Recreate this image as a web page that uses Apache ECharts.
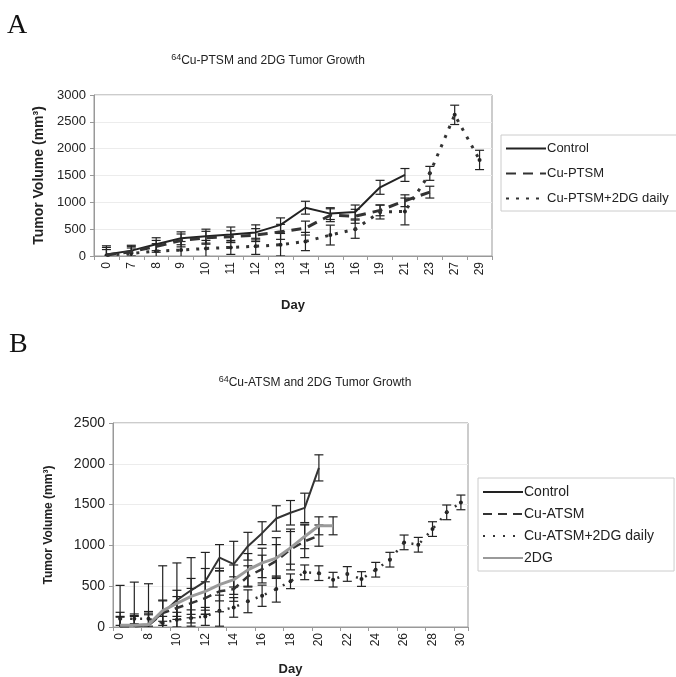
<!DOCTYPE html>
<html>
<head>
<meta charset="utf-8">
<script src="https://cdn.jsdelivr.net/npm/echarts@6/dist/echarts.min.js"></script>
<style>
  html, body { margin: 0; padding: 0; background: #fff; }
  #chart { width: 676px; height: 677px; }
</style>
</head>
<body>
<div id="chart"></div>
<script>
// panel A — 64Cu-PTSM
var daysA = ['0', '7', '8', '9', '10', '11', '12', '13', '14', '15', '16', '19', '21', '23', '27', '29'];
var ctrlA = [30, 100, 220, 330, 370, 400, 440, 580, 900, 790, 820, 1280, 1510, null, null, null];
var ctrlAErr = [130, 100, 120, 120, 130, 140, 140, 130, 120, 110, 130, 130, 120, null, null, null];
var ptsmA = [20, 80, 180, 290, 340, 360, 390, 450, 520, 760, 740, 850, 1030, 1190, null, null];
var ptsmAErr = [100, 100, 110, 120, 120, 110, 120, 140, 130, 120, 130, 100, 110, 110, null, null];
var dotA = [10, 50, 90, 110, 140, 160, 180, 210, 270, 390, 500, 820, 830, 1540, 2630, 1790];
var dotAErr = [180, 100, 140, 160, 150, 130, 150, 210, 170, 185, 170, 130, 250, 130, 180, 180];

// panel B — 64Cu-ATSM
var daysB = ['0', '7', '8', '9', '10', '11', '12', '13', '14', '15', '16', '17', '18', '19', '20',
  '21', '22', '23', '24', '25', '26', '27', '28', '29', '30'];
var ctrlB = [10, 20, 30, 170, 330, 450, 560, 850, 770, 990, 1150, 1330, 1400, 1460, 1950];
var ctrlBErr = [500, 530, 500, 580, 455, 400, 354, 160, 280, 170, 140, 156, 150, 180, 160];
var atsmB = [10, 10, 20, 170, 233, 293, 354, 437, 465, 620, 710, 810, 950, 1050, 1120];
var atsmBErr = [120, 120, 130, 150, 140, 180, 200, 250, 150, 130, 170, 200, 250, 200, 130];
var dgB = [20, 20, 30, 200, 290, 375, 437, 520, 580, 700, 785, 845, 970, 1110, 1240, 1240];
var dgBErr = [100, 120, 140, 130, 160, 220, 280, 200, 180, 200, 180, 250, 200, 150, 110, 110];
var dotB = [100, 100, 100, 50, 90, 110, 130, 200, 240, 315, 383, 465, 560, 670, 660,
  580, 650, 588, 702, 825, 1037, 1008, 1200, 1405, 1527];
var dotBErr = [80, 60, 90, 80, 90, 100, 110, 190, 120, 140, 130, 160, 90, 90, 90,
  90, 90, 90, 90, 90, 90, 90, 90, 90, 90];

var font = 'Liberation Sans, Arial, sans-serif';
var ink = '#222';

function errSeries(name, ax, means, errs, dot) {
  var data = [];
  means.forEach(function (m, i) {
    if (m != null && errs[i] != null) data.push([i, m - errs[i], m + errs[i], m]);
  });
  return {
    type: 'custom',
    name: name,
    xAxisIndex: ax,
    yAxisIndex: ax,
    clip: true,
    silent: true,
    z: 3,
    encode: { x: 0, y: [1, 2] },
    data: data,
    renderItem: function (params, api) {
      var lo = api.coord([api.value(0), api.value(1)]);
      var hi = api.coord([api.value(0), api.value(2)]);
      var mid = api.coord([api.value(0), api.value(3)]);
      var w = 4.5;
      var st = { stroke: ink, lineWidth: 1.2, fill: null };
      var kids = [
        { type: 'line', shape: { x1: lo[0], y1: lo[1], x2: hi[0], y2: hi[1] }, style: st },
        { type: 'line', shape: { x1: lo[0] - w, y1: lo[1], x2: lo[0] + w, y2: lo[1] }, style: st },
        { type: 'line', shape: { x1: hi[0] - w, y1: hi[1], x2: hi[0] + w, y2: hi[1] }, style: st }
      ];
      if (dot) kids.push({ type: 'circle', shape: { cx: mid[0], cy: mid[1], r: 2 }, style: { fill: ink } });
      return { type: 'group', children: kids };
    }
  };
}

function lineSeries(name, ax, data, color, width, dash) {
  return {
    type: 'line',
    name: name,
    xAxisIndex: ax,
    yAxisIndex: ax,
    data: data,
    showSymbol: false,
    symbol: 'circle',
    silent: true,
    z: 4,
    lineStyle: { color: color, width: width, type: dash },
    itemStyle: { color: color }
  };
}

function xAxis(idx, days, labelInterval, tickInterval, gap) {
  return {
    type: 'category',
    gridIndex: idx,
    data: days,
    boundaryGap: true,
    name: 'Day',
    nameLocation: 'middle',
    nameGap: gap,
    nameTextStyle: { fontFamily: font, fontWeight: 'bold', fontSize: 13, color: ink },
    axisLine: { lineStyle: { color: '#999' } },
    axisTick: { show: true, interval: tickInterval, length: 4, lineStyle: { color: '#999' } },
    axisLabel: { interval: labelInterval, rotate: 90, fontFamily: font, fontSize: 12, color: ink, margin: 6 },
    splitLine: { show: false }
  };
}

function yAxis(idx, max, gap, nameSize, labelSize) {
  return {
    type: 'value',
    gridIndex: idx,
    min: 0,
    max: max,
    interval: 500,
    name: 'Tumor Volume (mm³)',
    nameLocation: 'middle',
    nameGap: gap,
    nameTextStyle: { fontFamily: font, fontWeight: 'bold', fontSize: nameSize, color: ink },
    axisLine: { show: true, lineStyle: { color: '#999' } },
    axisTick: { show: true, length: 4, lineStyle: { color: '#999' } },
    axisLabel: {
      fontFamily: font, fontSize: labelSize, color: ink, margin: 8,
      formatter: function (v) { return String(v); }
    },
    splitLine: { lineStyle: { color: '#ececec' } }
  };
}

function legend(names, left, top, gap, size) {
  return {
    data: names,
    orient: 'vertical',
    left: left,
    top: top,
    itemWidth: 40,
    itemHeight: 12,
    itemGap: gap,
    padding: [7, 20, 6, 4],
    borderColor: '#ccc',
    borderWidth: 1,
    selectedMode: false,
    itemStyle: { opacity: 0 },
    textStyle: { fontFamily: font, fontSize: size, color: ink, padding: [0, 0, 0, -4] }
  };
}

var supRich = { s: { fontFamily: font, fontSize: 9, verticalAlign: 'top', padding: [0, 0, 6, 0], color: ink } };

var chart = echarts.init(document.getElementById('chart'), null, { renderer: 'canvas' });
chart.setOption({
  animation: false,
  title: [
    { text: 'A', left: 7, top: 12, padding: 0,
      textStyle: { fontFamily: 'Liberation Serif, serif', fontSize: 28, fontWeight: 'normal', color: '#111' } },
    { text: 'B', left: 9, top: 331, padding: 0,
      textStyle: { fontFamily: 'Liberation Serif, serif', fontSize: 28, fontWeight: 'normal', color: '#111' } },
    { text: '{s|64}Cu-PTSM and 2DG Tumor Growth', left: 268, top: 53, padding: 0, textAlign: 'center',
      textStyle: { fontFamily: font, fontSize: 12, fontWeight: 'normal', color: ink, rich: supRich } },
    { text: '{s|64}Cu-ATSM and 2DG Tumor Growth', left: 315, top: 375, padding: 0, textAlign: 'center',
      textStyle: { fontFamily: font, fontSize: 12, fontWeight: 'normal', color: ink, rich: supRich } }
  ],
  legend: [
    legend(['Control', 'Cu-PTSM', 'Cu-PTSM+2DG daily'], 501, 135, 12, 13),
    legend(['Control', 'Cu-ATSM', 'Cu-ATSM+2DG daily', '2DG'], 478, 478, 8, 14)
  ],
  grid: [
    { left: 94, top: 95, width: 398, height: 161, show: true, borderColor: '#999', borderWidth: 1 },
    { left: 113, top: 423, width: 355, height: 204, show: true, borderColor: '#999', borderWidth: 1 }
  ],
  xAxis: [xAxis(0, daysA, 0, 0, 43), xAxis(1, daysB, 1, 1, 36)],
  yAxis: [yAxis(0, 3000, 44, 14, 13), yAxis(1, 2500, 58, 12, 14)],
  series: [
    lineSeries('Control', 0, ctrlA, '#222', 2, 'solid'),
    lineSeries('Cu-PTSM', 0, ptsmA, '#333', 3, [10, 7]),
    lineSeries('Cu-PTSM+2DG daily', 0, dotA, '#333', 3, [3, 7]),
    errSeries('err-ctrlA', 0, ctrlA, ctrlAErr, false),
    errSeries('err-ptsmA', 0, ptsmA, ptsmAErr, false),
    errSeries('err-dotA', 0, dotA, dotAErr, true),

    lineSeries('Control', 1, ctrlB, '#333', 2, 'solid'),
    lineSeries('Cu-ATSM', 1, atsmB, '#333', 2.5, [9, 6]),
    lineSeries('Cu-ATSM+2DG daily', 1, dotB, '#333', 2.5, [2, 8]),
    lineSeries('2DG', 1, dgB, '#9a9a9a', 3, 'solid'),
    errSeries('err-ctrlB', 1, ctrlB, ctrlBErr, false),
    errSeries('err-atsmB', 1, atsmB, atsmBErr, false),
    errSeries('err-dgB', 1, dgB, dgBErr, false),
    errSeries('err-dotB', 1, dotB, dotBErr, true)
  ]
});
</script>
</body>
</html>
